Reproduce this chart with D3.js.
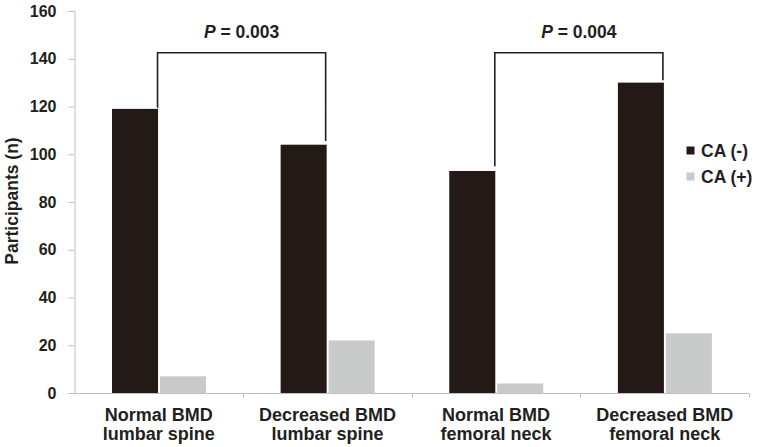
<!DOCTYPE html>
<html>
<head>
<meta charset="utf-8">
<script src="https://cdn.jsdelivr.net/npm/d3@7"></script>
<style>
  html, body { margin: 0; padding: 0; background: #fff; }
  svg { display: block; font-family: "Liberation Sans", Arial, sans-serif; }
</style>
</head>
<body>
<svg id="chart" width="758" height="447"></svg>
<script>
// ---- data ----
const categories = [
  ["Normal BMD", "lumbar spine"],
  ["Decreased BMD", "lumbar spine"],
  ["Normal BMD", "femoral neck"],
  ["Decreased BMD", "femoral neck"]
];
const seriesNames = ["CA (-)", "CA (+)"];
const caNegative = [119, 104, 93, 130];
const caPositive = [7, 22, 4, 25];
const yTicks = [0, 20, 40, 60, 80, 100, 120, 140, 160];
const bracketPairs = [[0, 1], [2, 3]];
const bracketLabels = ["0.003", "0.004"];
const bracketLevel = [142.5, 142.5];
const bracketLegEnds = [[119.5, 105.5], [95, 131]];

// ---- styles ----
const colors = ["#231916", "#c9caca"];
const textColor = "#231f20";
const axisColor = "#bfbfbf";

const svg = d3.select("#chart");
const catKeys = categories.map((c, i) => "c" + i);

const x = d3.scaleBand().domain(catKeys).range([74.5, 749]).paddingInner(0).paddingOuter(0);
const xs = d3.scaleBand().domain(seriesNames).range([37.5, 131.5]).paddingInner(0.04);
const y = d3.scaleLinear().domain([0, 160]).range([393, 11]);

// y axis
const yAxis = d3.axisLeft(y).tickValues(yTicks).tickSize(6).tickPadding(12).tickFormat(d3.format("d"));
const gy = svg.append("g").attr("transform", "translate(74.5,0)").call(yAxis);
gy.select(".domain").attr("stroke", axisColor).attr("stroke-width", 1);
gy.selectAll(".tick line").attr("stroke", axisColor);
gy.selectAll(".tick text")
  .attr("fill", textColor)
  .style("font-size", "16px")
  .style("font-weight", "bold");

// x axis
const boundaries = catKeys.map(k => x(k)).concat([x.range()[1]]);
const gx = svg.append("g").attr("transform", "translate(0,393.5)");
gx.append("line").attr("x1", x.range()[0]).attr("x2", x.range()[1])
  .attr("y1", 0).attr("y2", 0).attr("stroke", axisColor);
gx.selectAll("line.tk").data(boundaries.slice(1)).enter().append("line")
  .attr("class", "tk")
  .attr("x1", d => Math.round(d) + 0.5).attr("x2", d => Math.round(d) + 0.5)
  .attr("y1", 0).attr("y2", 4).attr("stroke", axisColor);

const xl = svg.append("g");
categories.forEach((lines, i) => {
  const cx = x(catKeys[i]) + x.bandwidth() / 2;
  const t = xl.append("text")
    .attr("x", cx).attr("y", 421)
    .attr("text-anchor", "middle")
    .attr("fill", textColor)
    .style("font-size", "18px").style("font-weight", "bold");
  lines.forEach((ln, j) => {
    t.append("tspan").attr("x", cx).attr("dy", j === 0 ? 0 : 19).text(ln);
  });
});

// y label
svg.append("text")
  .attr("transform", "translate(18,201) rotate(-90)")
  .attr("text-anchor", "middle")
  .attr("fill", textColor)
  .style("font-size", "17.5px").style("font-weight", "bold")
  .text("Participants (n)");

// bars
const seriesData = [caNegative, caPositive];
seriesData.forEach((vals, si) => {
  svg.append("g").selectAll("rect").data(vals).enter().append("rect")
    .attr("x", (d, i) => x(catKeys[i]) + xs(seriesNames[si]))
    .attr("y", d => y(d))
    .attr("width", xs.bandwidth())
    .attr("height", d => y(0) - y(d))
    .attr("fill", colors[si]);
});

// brackets
bracketPairs.forEach((pair, bi) => {
  const xa = x(catKeys[pair[0]]) + xs(seriesNames[0]) + xs.bandwidth() - 0.5;
  const xb = x(catKeys[pair[1]]) + xs(seriesNames[0]) + xs.bandwidth() - 1;
  const top = y(bracketLevel[bi]);
  const path = d3.path();
  path.moveTo(xa, y(bracketLegEnds[bi][0]));
  path.lineTo(xa, top);
  path.lineTo(xb, top);
  path.lineTo(xb, y(bracketLegEnds[bi][1]));
  svg.append("path").attr("d", path.toString())
    .attr("fill", "none").attr("stroke", textColor).attr("stroke-width", 1.6);
  const t = svg.append("text")
    .attr("x", (xa + xb) / 2).attr("y", 38)
    .attr("text-anchor", "middle")
    .attr("fill", textColor)
    .style("font-size", "17.5px").style("font-weight", "bold");
  t.append("tspan").style("font-style", "italic").text("P");
  t.append("tspan").text(" = " + bracketLabels[bi]);
});

// legend
const legend = svg.append("g");
seriesNames.forEach((name, i) => {
  const cy = 150.5 + i * 26;
  legend.append("rect").attr("x", 686.5).attr("y", cy - 4).attr("width", 8).attr("height", 8)
    .attr("fill", colors[i]);
  legend.append("text").attr("x", 701).attr("y", cy)
    .attr("dominant-baseline", "central")
    .attr("fill", textColor)
    .style("font-size", "17.5px").style("font-weight", "bold")
    .text(name);
});
</script>
</body>
</html>
